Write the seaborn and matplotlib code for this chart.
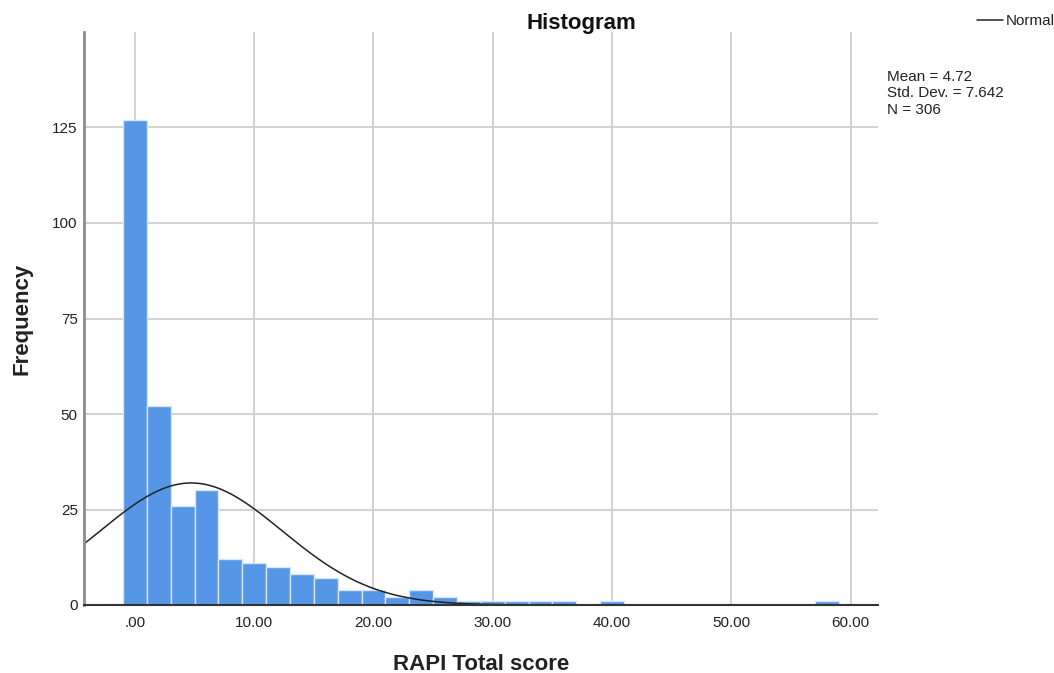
import numpy as np
import pandas as pd
import matplotlib
matplotlib.use("Agg")
import matplotlib.pyplot as plt
import seaborn as sns

# Binned RAPI scores (bin centres, width 2) and their frequencies
bin_centers = [0, 2, 4, 6, 8, 10, 12, 14, 16, 18, 20, 22, 24, 26, 28, 30, 32, 34, 36, 40, 58]
frequencies = [127, 52, 26, 30, 12, 11, 10, 8, 7, 4, 4, 2, 4, 2, 1, 1, 1, 1, 1, 1, 1]
x_ticks = [0, 10, 20, 30, 40, 50, 60]
x_tick_labels = [".00", "10.00", "20.00", "30.00", "40.00", "50.00", "60.00"]
y_ticks = [0, 25, 50, 75, 100, 125]
mean_val = 4.72
std_val = 7.642
n_val = 306
bin_width = 2

sns.set_theme(style="white")
plt.rcParams["font.family"] = ["Liberation Sans", "DejaVu Sans"]

df = pd.DataFrame({"score": bin_centers, "count": frequencies})

fig = plt.figure(figsize=(10.54, 6.73), dpi=100)
ax = fig.add_axes([84 / 1054, 1 - 605 / 673, (878 - 84) / 1054, (605 - 32) / 673])

ax.set_axisbelow(True)
ax.grid(True, color="#cfcfcf", linewidth=1.3)

sns.histplot(data=df, x="score", weights="count",
             binwidth=bin_width, binrange=(-1, 61), ax=ax,
             color="#5596e6", alpha=1.0, edgecolor="#d6e5f8", linewidth=1.0)

# Fitted normal curve scaled to counts
xs = np.linspace(-4.3, 62.3, 600)
ys = n_val * bin_width * np.exp(-0.5 * ((xs - mean_val) / std_val) ** 2) / (std_val * np.sqrt(2 * np.pi))
sns.lineplot(x=xs, y=ys, ax=ax, color="#222222", linewidth=1.1)

ax.set_xlim(-4.27, 62.3)
ax.set_ylim(0, 150)
ax.set_xticks(x_ticks)
ax.set_xticklabels(x_tick_labels)
ax.set_yticks(y_ticks)
ax.tick_params(axis="both", length=0, labelsize=11, colors="#222222")
ax.tick_params(axis="y", pad=4.5)
ax.tick_params(axis="x", pad=8)

for s in ["top", "right"]:
    ax.spines[s].set_visible(False)
ax.spines["left"].set_color("#8c8c8c")
ax.spines["left"].set_linewidth(2.0)
ax.spines["bottom"].set_color("#333333")
ax.spines["bottom"].set_linewidth(1.5)

ax.set_xlabel("RAPI Total score", fontsize=16, fontweight="bold", color="#222222", labelpad=17)
ax.set_ylabel("Frequency", fontsize=16, fontweight="bold", color="#222222")
ax.yaxis.set_label_coords((32 - 84) / 794, 0.5)

fig.text(581 / 1054, 1 - 23 / 673, "Histogram", fontsize=16, fontweight="bold",
         ha="center", va="center", color="#111111")

# Legend entry for the normal curve
fig.add_artist(plt.Line2D([977 / 1054, 1003 / 1054], [1 - 20 / 673, 1 - 20 / 673],
                          color="#222222", linewidth=1.1))
fig.text(1006 / 1054, 1 - 21 / 673, "Normal", fontsize=11, ha="left", va="center", color="#222222")

fig.text(887 / 1054, 1 - 70 / 673,
         f"Mean = {mean_val:.2f}\nStd. Dev. = {std_val:.3f}\nN = {n_val}",
         fontsize=11, ha="left", va="top", color="#222222", linespacing=1.22)

fig.savefig("out.png", dpi=100)
